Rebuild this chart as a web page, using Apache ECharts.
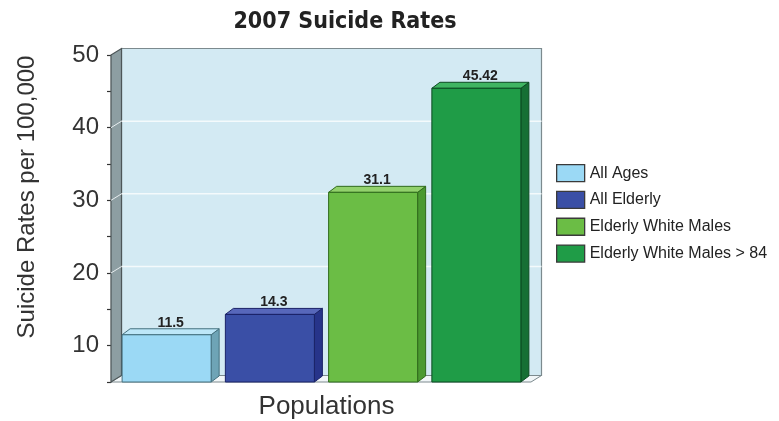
<!DOCTYPE html>
<html>
<head>
<meta charset="utf-8">
<script src="https://cdn.jsdelivr.net/npm/echarts@6/dist/echarts.min.js"></script>
<style>html,body{margin:0;padding:0;background:#fff}#c{width:779px;height:421px}</style>
</head>
<body>
<div id="c"></div>
<script>
// ---- data ----
const categories = ['All Ages', 'All Elderly', 'Elderly White Males', 'Elderly White Males > 84'];
const values = [11.5, 14.3, 31.1, 45.42];
const valueLabels = ['11.5', '14.3', '31.1', '45.42'];
const yMin = 5, yMax = 50, yInterval = 5;
const yLabelValues = [10, 20, 30, 40, 50];
const wallGridValues = [20, 30, 40];
const chartTitle = '2007 Suicide Rates';
const yName = 'Suicide Rates per 100,000';
const xName = 'Populations';

// ---- styles ----
const palette = [
  {front: '#9bd9f5', top: '#bde7f8', side: '#6ea4b6', edge: '#44707e'},
  {front: '#3a4fa6', top: '#5767ba', side: '#27348a', edge: '#1a2266'},
  {front: '#6bbd45', top: '#92d16c', side: '#4b9a31', edge: '#2f6a1c'},
  {front: '#1f9c47', top: '#40b562', side: '#166f34', edge: '#0c4a22'}
];
const BAR_DX = 8, BAR_DY = -6;
const WALL_DX = 10.5, WALL_DY = -6.5;

const chart = echarts.init(document.getElementById('c'), null, {renderer: 'canvas'});

function barRender(idx) {
  return function (params, api) {
    const ci = api.value(0), v = api.value(1);
    const top = api.coord([ci, v]);
    const base = api.coord([ci, yMin]);
    const band = api.size([1, 0])[0];
    const w = band * 0.862;
    const x = top[0] - w / 2;
    const c = palette[idx];
    const lw = 1;
    return {
      type: 'group',
      children: [
        {type: 'polygon', shape: {points: [[x + w, top[1]], [x + w + BAR_DX, top[1] + BAR_DY], [x + w + BAR_DX, base[1] + BAR_DY], [x + w, base[1]]]},
          style: {fill: c.side, stroke: c.edge, lineWidth: lw}},
        {type: 'polygon', shape: {points: [[x, top[1]], [x + BAR_DX, top[1] + BAR_DY], [x + w + BAR_DX, top[1] + BAR_DY], [x + w, top[1]]]},
          style: {fill: c.top, stroke: c.edge, lineWidth: lw}},
        {type: 'rect', shape: {x: x, y: top[1], width: w, height: base[1] - top[1]},
          style: {fill: c.front, stroke: c.edge, lineWidth: lw}},
        {type: 'text', style: {text: valueLabels[idx], x: top[0] + BAR_DX / 2, y: top[1] + BAR_DY + 1,
          align: 'center', verticalAlign: 'bottom', fontSize: 14, fontWeight: 'bold',
          fontFamily: 'Liberation Sans, Arial, sans-serif', fill: '#222'}}
      ]
    };
  };
}

function wallRender(params, api) {
  const cs = params.coordSys;
  const x0 = cs.x - 4, x1 = cs.x + cs.width + 3;
  const yt = cs.y, yb = cs.y + cs.height;
  const children = [
    // back wall
    {type: 'rect', shape: {x: x0 + WALL_DX, y: yt + WALL_DY, width: x1 - x0, height: yb - yt},
      style: {fill: '#d3eaf3', stroke: '#7c8a8e', lineWidth: 1.2}},
    // floor
    {type: 'polygon', shape: {points: [[x0, yb], [x0 + WALL_DX, yb + WALL_DY], [x1 + WALL_DX, yb + WALL_DY], [x1, yb]]},
      style: {fill: '#f1f6f8', stroke: '#7c8a8e', lineWidth: 1}},
    // left wall
    {type: 'polygon', shape: {points: [[x0, yt], [x0 + WALL_DX, yt + WALL_DY], [x0 + WALL_DX, yb + WALL_DY], [x0, yb]]},
      style: {fill: '#8d9ea2', stroke: '#4d5658', lineWidth: 1.2}}
  ];
  wallGridValues.forEach(function (gv) {
    const y = api.coord([0, gv])[1] + WALL_DY;
    children.push({type: 'line', shape: {x1: x0 + WALL_DX, y1: y, x2: x1 + WALL_DX, y2: y},
      style: {stroke: '#f4fafc', lineWidth: 1.5}});
    children.push({type: 'line', shape: {x1: x0, y1: y - WALL_DY, x2: x0 + WALL_DX, y2: y},
      style: {stroke: '#e8eef0', lineWidth: 1}});
  });
  return {type: 'group', children: children};
}

const series = [{
  type: 'custom', name: '_walls', silent: true, z: 1,
  data: [[0, yMin]], encode: {x: 0, y: 1}, renderItem: wallRender
}];
categories.forEach(function (name, i) {
  series.push({
    type: 'custom', name: name, z: 2,
    itemStyle: {color: palette[i].front},
    data: [[i, values[i]]], encode: {x: 0, y: 1},
    renderItem: barRender(i)
  });
});

chart.setOption({
  animation: false,
  backgroundColor: '#ffffff',
  title: {
    text: chartTitle, left: 340, top: 6, textAlign: 'center',
    textStyle: {fontFamily: 'Liberation Sans Narrow, Arial Narrow, DejaVu Sans Condensed, sans-serif',
      fontWeight: 'bold', fontSize: 23, color: '#222'}
  },
  legend: {
    orient: 'vertical', left: 556, top: 164, padding: 0,
    data: categories, icon: 'rect', itemWidth: 28, itemHeight: 17, itemGap: 8.5,
    itemStyle: {borderColor: '#3a3a3a', borderWidth: 1.3},
    textStyle: {fontSize: 16, color: '#222', fontFamily: 'Liberation Sans, Arial, sans-serif'},
    selectedMode: false
  },
  grid: {left: 115, right: 251, top: 55, bottom: 39, outerBoundsMode: 'none', containLabel: false},
  xAxis: {
    type: 'category', data: categories,
    axisLabel: {show: false}, axisTick: {show: false}, axisLine: {show: false},
    name: xName, nameLocation: 'middle', nameGap: 12,
    nameTextStyle: {fontSize: 26, color: '#333', fontFamily: 'Liberation Sans, Arial, sans-serif', padding: [0, 0, 0, 10]}
  },
  yAxis: {
    type: 'value', min: yMin, max: yMax, interval: yInterval, offset: 4,
    splitLine: {show: false},
    axisLine: {show: true, lineStyle: {color: '#444', width: 1.2}},
    axisTick: {show: true, length: 4, lineStyle: {color: '#333', width: 1.2}},
    axisLabel: {
      fontSize: 24, color: '#333', margin: 12, fontFamily: 'Liberation Sans, Arial, sans-serif',
      formatter: function (v) { return yLabelValues.indexOf(v) >= 0 ? String(v) : ''; }
    }
  },
  graphic: [{
    type: 'text', x: 27, y: 197, rotation: Math.PI / 2,
    style: {text: yName, fontSize: 24, fill: '#333', align: 'center', verticalAlign: 'middle',
      fontFamily: 'Liberation Sans, Arial, sans-serif'}
  }],
  series: series
});
</script>
</body>
</html>
